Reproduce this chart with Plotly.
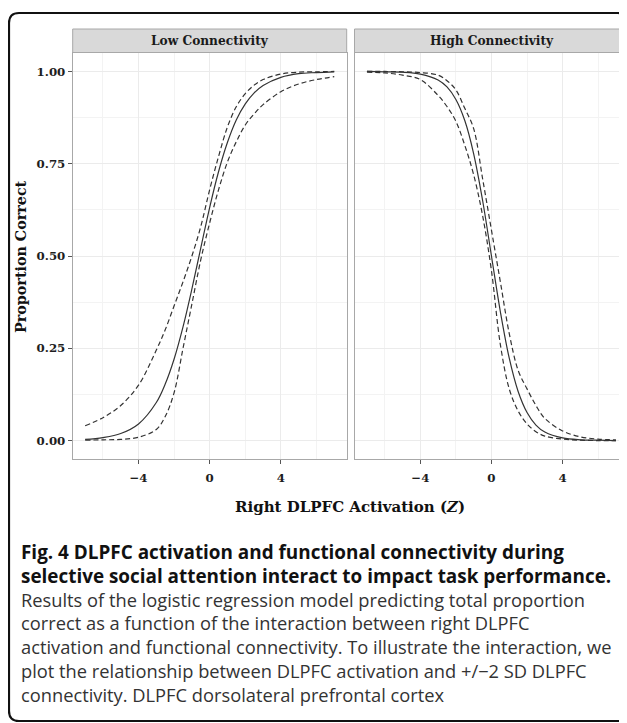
import plotly.graph_objects as go

# ---------------- data ----------------
x_grid = [-7, -6, -5, -4, -3, -2.5, -2, -1.5, -1, -0.5, 0, 0.5, 1, 1.5, 2, 2.5, 3, 4, 5, 6, 7]

low_fit = [0.003, 0.008, 0.019, 0.045, 0.103, 0.153, 0.221, 0.308, 0.411, 0.522, 0.632,
           0.729, 0.808, 0.869, 0.912, 0.942, 0.962, 0.984, 0.994, 0.997, 0.999]
low_upper = [0.040, 0.062, 0.095, 0.150, 0.245, 0.300, 0.365, 0.430, 0.500, 0.580, 0.680,
             0.770, 0.850, 0.905, 0.940, 0.963, 0.978, 0.993, 0.998, 0.999, 1.000]
low_lower = [0.001, 0.002, 0.003, 0.009, 0.030, 0.065, 0.130, 0.250, 0.370, 0.490, 0.590,
             0.680, 0.755, 0.810, 0.855, 0.885, 0.910, 0.945, 0.966, 0.978, 0.986]

high_fit = [1.000, 0.999, 0.998, 0.993, 0.977, 0.958, 0.924, 0.867, 0.777, 0.651, 0.500,
            0.349, 0.223, 0.133, 0.076, 0.042, 0.023, 0.007, 0.002, 0.001, 0.000]
high_upper = [1.000, 1.000, 0.999, 0.997, 0.990, 0.975, 0.950, 0.900, 0.845, 0.710, 0.570,
              0.430, 0.290, 0.190, 0.140, 0.095, 0.060, 0.026, 0.010, 0.004, 0.002]
high_lower = [0.998, 0.996, 0.990, 0.978, 0.935, 0.905, 0.865, 0.800, 0.720, 0.610, 0.460,
              0.260, 0.140, 0.080, 0.045, 0.024, 0.012, 0.004, 0.001, 0.000, 0.000]

panel_titles = ["Low Connectivity", "High Connectivity"]
x_title = "<b>Right DLPFC Activation (<i>Z</i>)</b>"
y_title = "<b>Proportion Correct</b>"

caption_bold = [
    "Fig. 4 DLPFC activation and functional connectivity during",
    "selective social attention interact to impact task performance.",
]
caption_regular = [
    "Results of the logistic regression model predicting total proportion",
    "correct as a function of the interaction between right DLPFC",
    "activation and functional connectivity. To illustrate the interaction, we",
    "plot the relationship between DLPFC activation and +/\u22122 SD DLPFC",
    "connectivity. DLPFC dorsolateral prefrontal cortex",
]

# ---------------- layout helpers ----------------
# the page body has an 8px default margin; work in window pixels
OX, OY = 8, 8
W, H = 619, 715


def px(x):
    return (x - OX) / W


def py(y):
    return 1 - (y - OY) / H


SERIF = "DejaVu Serif"
SANS = "Open Sans"
LINE_C = "#333333"

fig = go.Figure()

for (fit, up, lo), xa, ya in [((low_fit, low_upper, low_lower), "x", "y"),
                              ((high_fit, high_upper, high_lower), "x2", "y2")]:
    for ys, dash in [(up, "5px,3px"), (lo, "5px,3px"), (fit, "solid")]:
        fig.add_trace(go.Scatter(
            x=x_grid, y=ys, mode="lines", xaxis=xa, yaxis=ya,
            line=dict(color=LINE_C, width=1.2, dash=dash, shape="spline", smoothing=1.0),
            showlegend=False, hoverinfo="skip"))

tickfont = dict(family=SERIF, size=11.8, color="#1e1e1e", weight="bold")
common_x = dict(dtick=4, tick0=0, ticks="outside", ticklen=4, tickwidth=1, tickcolor="#555555",
                showgrid=True, gridcolor="#ebebeb", gridwidth=1,
                minor=dict(dtick=2, tick0=0, showgrid=True, gridcolor="#f3f3f3", gridwidth=1, ticks=""),
                showline=True, linecolor="#a8a8a8", linewidth=1, mirror=True,
                zeroline=False, tickfont=tickfont, ticklabelstandoff=4)
common_y = dict(range=[-0.05, 1.05], dtick=0.25, tick0=0, tickformat=".2f",
                showgrid=True, gridcolor="#ebebeb", gridwidth=1,
                minor=dict(dtick=0.125, tick0=0, showgrid=True, gridcolor="#f3f3f3", gridwidth=1, ticks=""),
                zeroline=False, tickfont=tickfont,
                domain=[py(459), py(53)])

fig.update_layout(
    width=W, height=H,
    margin=dict(l=0, r=0, t=0, b=0),
    paper_bgcolor="white", plot_bgcolor="white",
    xaxis=dict(domain=[px(72.7), px(346.7)], range=[-7.7, 7.7], anchor="y", **common_x),
    xaxis2=dict(domain=[px(354.5), 1.0], range=[-7.7, 7.62], anchor="y2", **common_x),
    yaxis=dict(anchor="x", ticks="outside", ticklen=4, tickcolor="#555555",
               showline=True, linecolor="#a8a8a8", mirror=True, **common_y),
    yaxis2=dict(anchor="x2", matches="y", showticklabels=False, ticks="",
                showline=True, linecolor="#a8a8a8", mirror=False, **common_y),
)

shapes = []
# facet strips
for x0, x1 in [(72.7, 346.7), (354.5, 640)]:
    shapes.append(dict(type="rect", xref="paper", yref="paper",
                       x0=px(x0), x1=px(x1), y0=py(52.5), y1=py(29),
                       fillcolor="#d9d9d9", line=dict(color="#a8a8a8", width=1), layer="below"))

# outer rounded frame
L, T, R, B, r = 9, 13, 628, 721, 10
path = (f"M {px(L)},{py(T + r)} Q {px(L)},{py(T)} {px(L + r)},{py(T)} "
        f"L {px(R - r)},{py(T)} Q {px(R)},{py(T)} {px(R)},{py(T + r)} "
        f"L {px(R)},{py(B - r)} Q {px(R)},{py(B)} {px(R - r)},{py(B)} "
        f"L {px(L + r)},{py(B)} Q {px(L)},{py(B)} {px(L)},{py(B - r)} Z")
shapes.append(dict(type="path", xref="paper", yref="paper", path=path,
                   line=dict(color="#111111", width=2.2)))
fig.update_layout(shapes=shapes)

ann = []
for title, cx in zip(panel_titles, [209.7, 491.5]):
    ann.append(dict(text=f"<b>{title}</b>", xref="paper", yref="paper", x=px(cx), y=py(41),
                    xanchor="center", yanchor="middle", showarrow=False,
                    font=dict(family=SERIF, size=12.2, color="#1a1a1a")))
ann.append(dict(text=x_title, xref="paper", yref="paper", x=px(350), y=py(507),
                xanchor="center", yanchor="middle", showarrow=False,
                font=dict(family=SERIF, size=15, color="#111111")))
ann.append(dict(text=y_title, xref="paper", yref="paper", x=px(21), y=py(257),
                xanchor="center", yanchor="middle", showarrow=False, textangle=-90,
                font=dict(family=SERIF, size=14.3, color="#111111")))

# caption as one multi-line text block
cap_lines = [f"<span style='font-size:18.9px;color:#111111'><b>{t}</b></span>" for t in caption_bold]
cap_lines += [f"<span style='color:#333333'>{t}</span>" for t in caption_regular]
ann.append(dict(text="<br>".join(cap_lines), xref="paper", yref="paper",
                x=px(19), y=py(623), xanchor="left", yanchor="middle", align="left",
                showarrow=False, font=dict(family=SANS, size=18.3, color="#333333")))
fig.update_layout(annotations=ann)

fig.write_html("out.html")
